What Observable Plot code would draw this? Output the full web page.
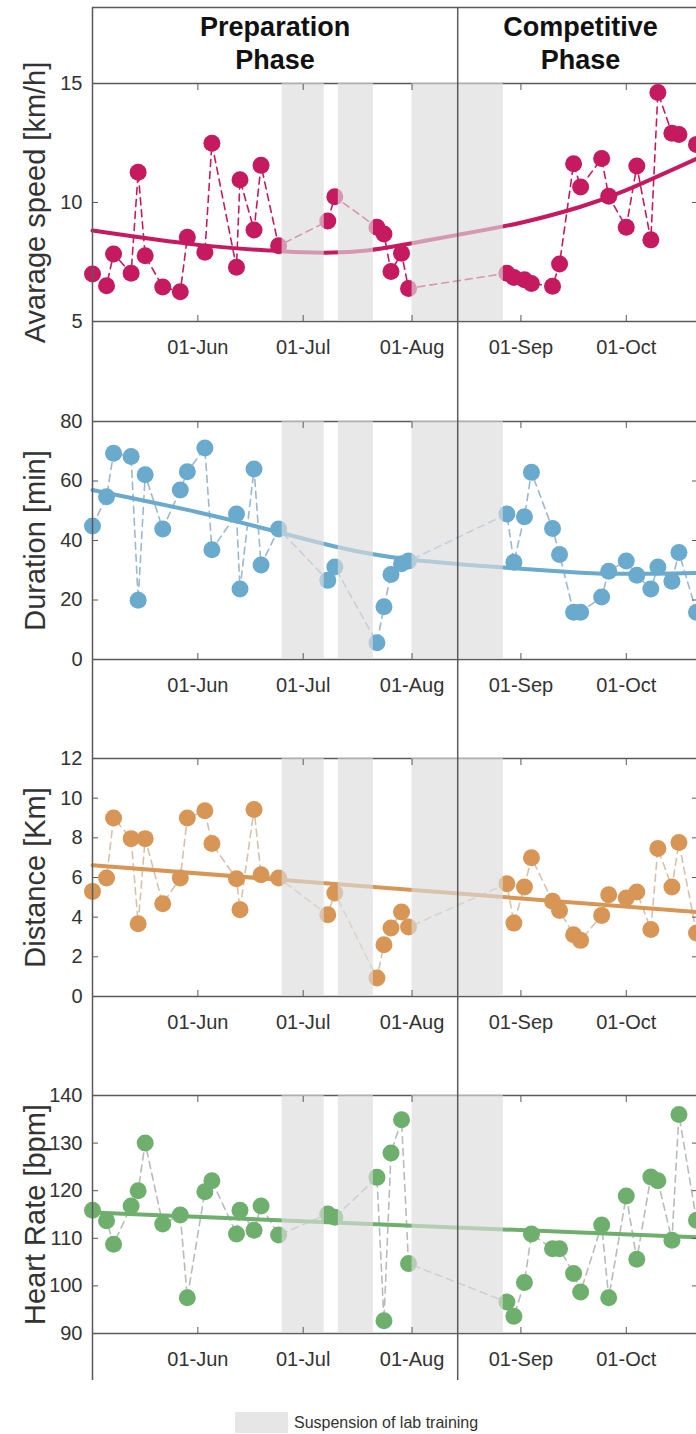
<!DOCTYPE html>
<html>
<head>
<meta charset="utf-8">
<script src="https://cdn.jsdelivr.net/npm/d3@7"></script>
<script src="https://cdn.jsdelivr.net/npm/@observablehq/plot@0.6"></script>
<style>
  html, body { margin: 0; padding: 0; background: #fff; overflow: hidden; width: 696px; height: 1434px; }
  #root { position: relative; width: 696px; height: 1434px; font-family: "Liberation Sans", Arial, Helvetica, sans-serif; }
  .layer { position: absolute; left: 0; }
  .layer svg { display: block; overflow: visible; }
  #legend { position: absolute; left: 235px; top: 1412px; display: flex; align-items: center; font-size: 16px; color: #333; }
  #legend .sw { width: 53px; height: 21px; background: #e6e6e6; margin-right: 6px; }
</style>
</head>
<body>
<div id="root"></div>
<script>
// ---- data ----
const sessionDates = [
  "2021-05-02","2021-05-06","2021-05-08","2021-05-13","2021-05-15","2021-05-17","2021-05-22","2021-05-27",
  "2021-05-29","2021-06-03","2021-06-05","2021-06-12","2021-06-13","2021-06-17","2021-06-19","2021-06-24",
  "2021-07-08","2021-07-10","2021-07-22","2021-07-24","2021-07-26","2021-07-29","2021-07-31","2021-08-28",
  "2021-08-30","2021-09-02","2021-09-04","2021-09-10","2021-09-12","2021-09-16","2021-09-18","2021-09-24",
  "2021-09-26","2021-10-01","2021-10-04","2021-10-08","2021-10-10","2021-10-14","2021-10-16","2021-10-21"
];
const avgSpeed = [7.0, 6.5, 7.84, 7.03, 11.27, 7.76, 6.45, 6.25, 8.54, 7.91, 12.49, 7.28, 10.96, 8.84, 11.56, 8.18,
  9.22, 10.24, 8.96, 8.68, 7.1, 7.87, 6.39, 7.03, 6.85, 6.75, 6.6, 6.48, 7.42, 11.63, 10.65, 11.85,
  10.26, 8.96, 11.53, 8.43, 14.62, 12.91, 12.86, 12.44];
const duration = [44.9, 54.7, 69.3, 68.2, 19.9, 62.1, 43.9, 57.0, 63.1, 71.1, 36.9, 48.9, 23.7, 64.0, 31.8, 43.9,
  26.6, 31.1, 5.6, 17.7, 28.6, 32.2, 33.1, 48.9, 32.7, 48.0, 62.9, 44.0, 35.3, 15.9, 15.9, 21.0,
  29.7, 33.1, 28.3, 23.7, 31.1, 26.3, 36.0, 15.9];
const distance = [5.30, 5.98, 9.0, 7.96, 3.67, 7.96, 4.68, 5.98, 9.0, 9.36, 7.71, 5.94, 4.38, 9.43, 6.14, 5.98,
  4.12, 5.22, 0.93, 2.61, 3.45, 4.26, 3.5, 5.69, 3.70, 5.52, 7.0, 4.80, 4.34, 3.11, 2.83, 4.09,
  5.13, 4.97, 5.27, 3.38, 7.46, 5.52, 7.76, 3.2];
const heartRate = [115.9, 113.7, 108.75, 116.8, 120.0, 130.0, 113.0, 114.9, 97.5, 119.8, 122.1, 110.9, 115.9, 111.7, 116.8, 110.7,
  115.1, 114.4, 122.8, 92.7, 127.9, 134.9, 104.7, 96.6, 93.6, 100.7, 110.9, 107.8, 107.8, 102.6, 98.7, 112.8,
  97.5, 118.9, 105.6, 122.9, 122.1, 109.6, 136.0, 113.8];

// trend curves
const speedTrendDates = ["2021-05-02","2021-06-01","2021-06-22","2021-07-01","2021-07-16","2021-08-01","2021-08-14","2021-09-01","2021-09-18","2021-10-01","2021-10-21"];
const speedTrend = [8.82, 8.22, 7.98, 7.91, 7.94, 8.29, 8.64, 9.15, 9.82, 10.52, 11.84];
const durationTrendDates = ["2021-05-02","2021-06-01","2021-06-24","2021-07-10","2021-08-01","2021-09-01","2021-09-18","2021-10-01","2021-10-21"];
const durationTrend = [57.0, 49.5, 42.8, 38.0, 33.5, 30.5, 29.2, 28.8, 29.1];
const distanceTrendDates = ["2021-05-02","2021-10-21"];
const distanceTrend = [6.62, 4.26];
const hrTrendDates = ["2021-05-02","2021-10-21"];
const hrTrend = [115.4, 110.2];

const monthTicks = ["2021-06-01","2021-07-01","2021-08-01","2021-09-01","2021-10-01"];
const suspensionStarts = ["2021-06-25","2021-07-11","2021-08-01"];
const suspensionEnds   = ["2021-07-07","2021-07-21","2021-08-27"];
const phaseNames  = ["Preparation\nPhase", "Competitive\nPhase"];
const phaseStarts = ["2021-05-02", "2021-08-14"];
const phaseEnds   = ["2021-08-14", "2021-10-23"];
const xDomain = ["2021-05-02", "2021-10-21"];

const labels = ["Avarage speed [km/h]", "Duration [min]", "Distance [Km]", "Heart Rate [bpm]"];
const yDomains = [[5, 15], [0, 80], [0, 12], [90, 140]];
const yTicks = [[5, 10, 15], [0, 20, 40, 60, 80], [0, 2, 4, 6, 8, 10, 12], [90, 100, 110, 120, 130, 140]];
const colors = ["#c51a60", "#69aacd", "#d79655", "#6eaf6e"];
const dashColors = ["#c51a60", "#9bb9cc", "#d6c2ad", "#b6bcb6"];

// ---- build ----
const D = s => new Date(s);
const xDom = xDomain.map(D);
const months = monthTicks.map(D);
const bands = suspensionStarts.map((s, i) => ({start: D(s), end: D(suspensionEnds[i])}));
const phases = phaseNames.map((n, i) => ({name: n, start: D(phaseStarts[i]), end: D(phaseEnds[i])}));
const series = [
  {values: avgSpeed, tDates: speedTrendDates, tVals: speedTrend},
  {values: duration, tDates: durationTrendDates, tVals: durationTrend},
  {values: distance, tDates: distanceTrendDates, tVals: distanceTrend},
  {values: heartRate, tDates: hrTrendDates, tVals: hrTrend}
];
const panelTops = [83, 421, 758, 1095];
const PH = 238, MT = 12, MB = 60;
const frameColor = "#5a5a5a";
const textColor = "#333";
const font = '"Liberation Sans", Arial, Helvetica, sans-serif';
const root = document.getElementById("root");

series.forEach((s, k) => {
  const data = sessionDates.map((d, i) => ({date: D(d), value: s.values[i]}));
  const trend = s.tDates.map((d, i) => ({date: D(d), value: s.tVals[i]}));
  const svg = Plot.plot({
    width: 696, height: PH + MT + MB,
    marginTop: MT, marginBottom: MB, marginLeft: 92, marginRight: 0,
    style: {background: "transparent", overflow: "visible", fontFamily: font, color: textColor},
    x: {type: "utc", domain: xDom},
    y: {domain: yDomains[k]},
    marks: [
      Plot.ruleY(yDomains[k], {stroke: frameColor, strokeWidth: 1.5}),
      Plot.line(data, {x: "date", y: "value", stroke: dashColors[k], strokeWidth: 1.6, strokeDasharray: "7,5"}),
      Plot.line(trend, {x: "date", y: "value", stroke: colors[k], strokeWidth: 4, curve: "natural"}),
      Plot.dot(data, {x: "date", y: "value", r: 8.5, fill: colors[k]}),
      Plot.rect(bands, {x1: "start", x2: "end", fill: "#dcdcdc", fillOpacity: 0.65}),
      Plot.axisX(months, {anchor: "bottom", tickSize: -6, fill: "none", stroke: frameColor, label: null}),
      Plot.axisX(months, {anchor: "top", tickSize: -6, fill: "none", stroke: frameColor, label: null}),
      Plot.axisX(months, {anchor: "bottom", tickSize: 0, tickPadding: 18, tickFormat: d3.utcFormat("%d-%b"), fontSize: 20, fill: textColor, label: null}),
      Plot.axisY(yTicks[k], {anchor: "left", tickSize: -6, fill: "none", stroke: frameColor, label: null}),
      Plot.axisY(yTicks[k], {anchor: "right", tickSize: -5, fill: "none", stroke: frameColor, label: null}),
      Plot.axisY(yTicks[k], {anchor: "left", tickSize: 0, tickPadding: 10, fontSize: 20, fill: textColor, label: null}),
      Plot.text([labels[k]], {text: d => d, frameAnchor: "left", textAnchor: "middle", lineAnchor: "middle", dx: -57, rotate: -90, fontSize: 29, fill: textColor})
    ]
  });
  const div = document.createElement("div");
  div.className = "layer";
  div.style.top = (panelTops[k] - MT) + "px";
  div.appendChild(svg);
  root.appendChild(div);
});

// overlay: header box, left frame line and phase divider
const overlay = Plot.plot({
  width: 696, height: 1434,
  marginTop: 7, marginBottom: 54, marginLeft: 92, marginRight: 0,
  style: {background: "transparent", overflow: "visible", fontFamily: font, color: "#111"},
  x: {type: "utc", domain: xDom, axis: null},
  y: {domain: [0, 1], axis: null},
  marks: [
    Plot.ruleY([1], {stroke: frameColor, strokeWidth: 1.5}),
    Plot.ruleX(phases, {x: "start", stroke: frameColor, strokeWidth: 1.5}),
    Plot.text(phases, {
      x: d => new Date((+d.start + +d.end) / 2), text: "name",
      frameAnchor: "top", lineAnchor: "top", dy: 5, fontSize: 27, fontWeight: "bold", lineHeight: 1.22, fill: "#111"
    })
  ]
});
const ov = document.createElement("div");
ov.className = "layer";
ov.style.top = "0px";
ov.style.pointerEvents = "none";
ov.appendChild(overlay);
root.appendChild(ov);

// legend
const lg = document.createElement("div");
lg.id = "legend";
lg.innerHTML = '<div class="sw"></div><span>Suspension of lab training</span>';
root.appendChild(lg);
</script>
</body>
</html>
